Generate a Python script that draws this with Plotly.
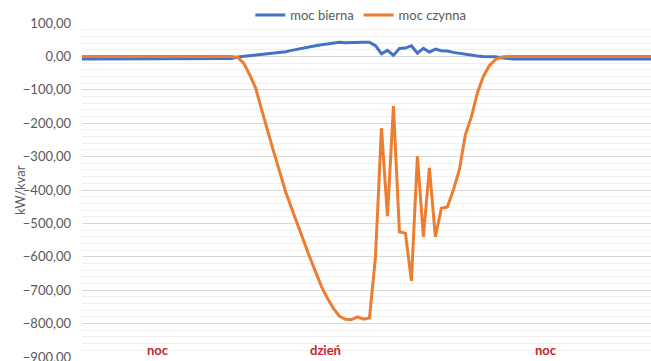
import plotly.graph_objects as go

# 96 quarter-hour samples across the day
n_points = 96
idx = list(range(n_points))

moc_czynna = ([0.0] * 26 + [
    -3, -20, -55, -95, -160, -225, -285, -345, -405, -455,
    -505, -555, -600, -645, -690, -725, -755, -778, -787, -788,
    -780, -787, -783, -600, -215, -478, -149, -525, -530, -672,
    -299, -540, -334, -540, -455, -451, -400, -340, -235, -182,
    -110, -60, -28, -10, -2] + [0.0] * 25)

moc_bierna = ([-8.0] * 25 + [
    -6, -2, 0, 1, 2, 4, 6, 8, 11, 14,
    18, 22, 26, 29, 32, 35, 38, 41, 42, 41,
    42, 41, 42, 42, 32, 8, 18, 3, 24, 25,
    32, 10, 24, 13, 22, 17, 16, 12, 9, 6,
    3, 1, 0, 0, -1, -4, -7] + [-8.0] * 24)

y_ticks = [100, 0, -100, -200, -300, -400, -500, -600, -700, -800, -900]
period_labels = ["noc", "dzień", "noc"]
period_x = [12.7, 40.7, 77.5]

FONT = "Lato, 'Open Sans', sans-serif"
GRAY = "#595959"

fig = go.Figure()
fig.add_trace(go.Scatter(x=idx, y=moc_bierna, mode="lines", name="moc bierna",
                         line=dict(color="#4472c4", width=3)))
fig.add_trace(go.Scatter(x=idx, y=moc_czynna, mode="lines", name="moc czynna",
                         line=dict(color="#ed7d31", width=3)))

for txt, xv in zip(period_labels, period_x):
    fig.add_annotation(x=xv, y=-878, xref="x", yref="y", text="<b>%s</b>" % txt,
                       showarrow=False, font=dict(family=FONT, size=13, color="#c0272d"))

fig.add_annotation(x=-0.109, y=0.5, xref="paper", yref="paper", text="kW/kvar",
                   textangle=-90, showarrow=False, xanchor="center", yanchor="middle",
                   font=dict(family=FONT, size=13, color=GRAY))

fig.update_layout(
    width=651, height=361,
    margin=dict(l=82, r=0, t=23, b=4, autoexpand=False),
    paper_bgcolor="white", plot_bgcolor="white",
    separators=", ",
    showlegend=True,
    legend=dict(orientation="h", x=0.49, xanchor="center", y=1.024, yanchor="middle",
                font=dict(family=FONT, size=13, color=GRAY), bgcolor="rgba(0,0,0,0)",
                itemwidth=30, entrywidthmode="pixels", tracegroupgap=0),
    font=dict(family=FONT, color=GRAY),
)
fig.update_xaxes(range=[0, n_points - 1], showgrid=False, showticklabels=False,
                 zeroline=False, showline=False, ticks="", automargin=False)
fig.update_yaxes(range=[-900, 100], tickvals=y_ticks, tickformat=".2f",
                 showgrid=True, gridcolor="#d9d9d9", gridwidth=1,
                 minor=dict(dtick=20, showgrid=True, gridcolor="#f0f0f0", gridwidth=1),
                 zeroline=False, showline=False, ticklabelstandoff=10, automargin=False,
                 ticklabeloverflow="allow",
                 tickfont=dict(family=FONT, size=13, color=GRAY))

fig.write_html("out.html", config={"displayModeBar": False},
               post_script="document.body.style.margin='0';document.body.style.overflow='hidden';")
